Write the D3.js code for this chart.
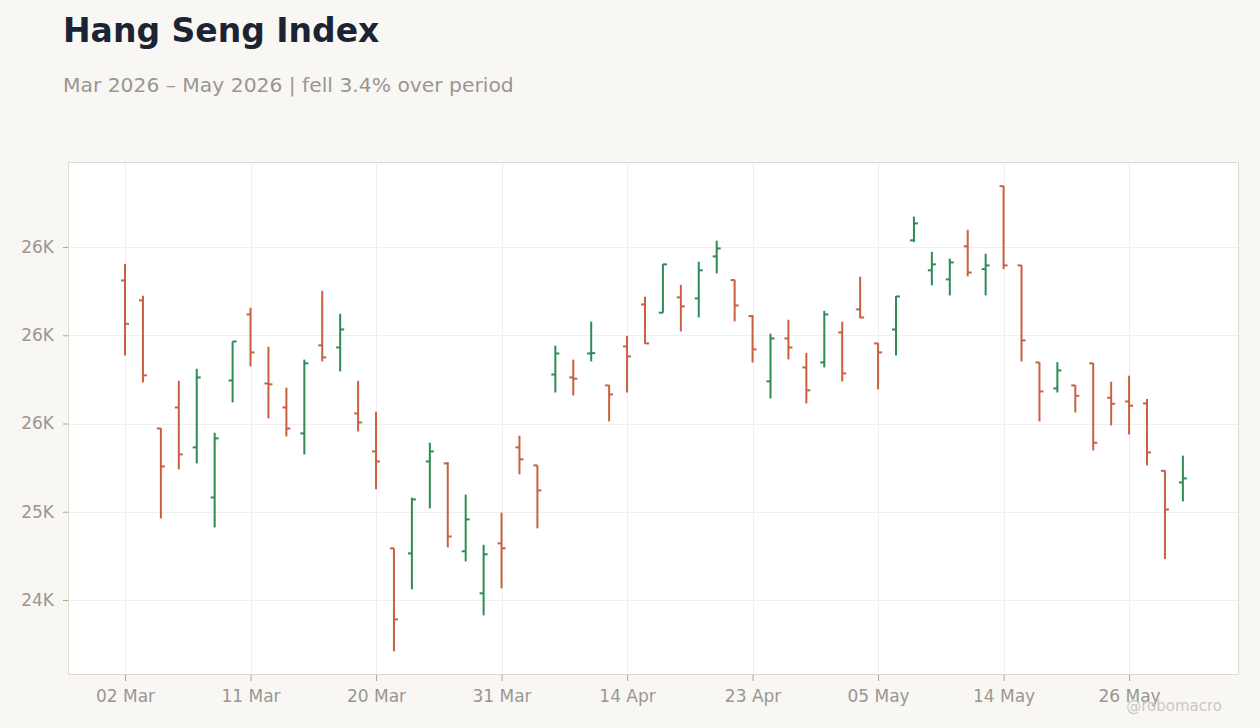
<!DOCTYPE html>
<html>
<head>
<meta charset="utf-8">
<script src="https://cdn.jsdelivr.net/npm/d3@7"></script>
<style>
  html, body { margin: 0; padding: 0; background: #f9f7f4; }
  svg { display: block; font-family: "DejaVu Sans", sans-serif; }
</style>
</head>
<body>
<svg id="chart" width="1260" height="728"></svg>
<script>
// ---- data ----
const dates = [
  "2026-03-02","2026-03-03","2026-03-04","2026-03-05","2026-03-06","2026-03-09","2026-03-10","2026-03-11","2026-03-12","2026-03-13",
  "2026-03-16","2026-03-17","2026-03-18","2026-03-19","2026-03-20","2026-03-23","2026-03-24","2026-03-25","2026-03-26","2026-03-27",
  "2026-03-30","2026-03-31","2026-04-01","2026-04-02","2026-04-08","2026-04-09","2026-04-10","2026-04-13","2026-04-14","2026-04-15",
  "2026-04-16","2026-04-17","2026-04-20","2026-04-21","2026-04-22","2026-04-23","2026-04-24","2026-04-27","2026-04-28","2026-04-29",
  "2026-04-30","2026-05-04","2026-05-05","2026-05-06","2026-05-07","2026-05-08","2026-05-11","2026-05-12","2026-05-13","2026-05-14",
  "2026-05-15","2026-05-18","2026-05-19","2026-05-20","2026-05-21","2026-05-22","2026-05-26","2026-05-27","2026-05-28","2026-05-29"
];
const openValues = [
  26311,26198,25472,25591,25365,25081,25744,26118,25727,25591,
  25444,25943,25931,25557,25342,24793,24764,25285,25274,24776,
  24538,24821,25365,25263,25778,25761,25897,25716,25937,26175,
  26128,26215,26209,26447,26313,26109,25739,25982,25818,25846,
  26016,26147,25954,26033,26538,26368,26317,26504,26375,26845,
  26396,25846,25699,25716,25841,25646,25625,25614,25232,25166
];
const highValues = [
  26405,26224,25474,25742,25810,25448,25965,26156,25935,25703,
  25862,26252,26122,25742,25567,24793,25080,25391,25282,25097,
  24813,24995,25431,25263,25941,25862,26077,25718,25997,26218,
  26402,26286,26417,26536,26315,26115,26009,26088,25901,26139,
  26077,26332,25956,26222,26672,26473,26434,26598,26462,26847,
  26398,25848,25848,25718,25843,25737,25771,25639,25234,25318
];
const lowValues = [
  25886,25733,24962,25240,25274,24911,25620,25824,25529,25427,
  25325,25852,25795,25455,25127,24209,24560,25019,24798,24719,
  24413,24566,25212,24906,25676,25659,25852,25512,25676,25952,
  26128,26022,26101,26351,26079,25846,25642,25863,25614,25818,
  25739,26096,25693,25886,26528,26283,26226,26334,26226,26375,
  25852,25512,25676,25563,25348,25489,25438,25263,24732,25059
];
const closeValues = [
  26065,25773,25257,25325,25761,25416,25965,25903,25722,25472,
  25841,25875,26033,25506,25285,24390,25070,25342,24860,24957,
  24759,24793,25297,25121,25897,25754,25899,25665,25880,25954,
  26402,26164,26368,26492,26169,25920,25982,25931,25688,26118,
  25784,26101,25903,26220,26634,26402,26413,26356,26396,26396,
  25971,25682,25801,25657,25391,25612,25601,25336,25013,25189
];
const yTickValues = [24500, 25000, 25500, 26000, 26500];
const yTickLabels = ["24K", "25K", "26K", "26K", "26K"];
const xTickEvery = 7;

const titleText = "Hang Seng Index";
const subtitleText = "Mar 2026 \u2013 May 2026 | fell 3.4% over period";
const watermarkText = "@robomacro";

// ---- layout ----
const W = 1260, H = 728;
const plot = { left: 68, right: 1239, top: 162, bottom: 675 };
const upColor = "#2e8b57", downColor = "#c9603f";

const svg = d3.select("#chart");

const rows = dates.map((d, i) => ({
  i, date: d3.timeParse("%Y-%m-%d")(d),
  open: openValues[i], high: highValues[i], low: lowValues[i], close: closeValues[i]
}));

const x = d3.scaleLinear().domain([-3.18, dates.length - 1 + 3.13]).range([plot.left, plot.right]);
const y = d3.scaleLinear().domain([24075, 26982]).range([plot.bottom, plot.top]);

// title
svg.append("text").attr("x", 63).attr("y", 42)
  .attr("font-size", 33).attr("font-weight", "bold").attr("fill", "#1c2434")
  .text(titleText);
svg.append("text").attr("x", 63).attr("y", 92)
  .attr("font-size", 20.3).attr("fill", "#9a9691")
  .text(subtitleText);

// plot background
svg.append("rect")
  .attr("x", plot.left).attr("y", plot.top)
  .attr("width", plot.right - plot.left).attr("height", plot.bottom - plot.top)
  .attr("fill", "#ffffff");

const xTickIdx = d3.range(0, dates.length, xTickEvery);
const fmtDate = d3.timeFormat("%d %b");

// grid
const grid = svg.append("g").attr("shape-rendering", "crispEdges");
grid.selectAll(".hg").data(yTickValues).join("line")
  .attr("x1", plot.left).attr("x2", plot.right)
  .attr("y1", d => Math.round(y(d)) + 0.5).attr("y2", d => Math.round(y(d)) + 0.5)
  .attr("stroke", "#efefef").attr("stroke-width", 1);
grid.selectAll(".vg").data(xTickIdx).join("line")
  .attr("y1", plot.top).attr("y2", plot.bottom)
  .attr("x1", d => Math.round(x(d)) + 0.5).attr("x2", d => Math.round(x(d)) + 0.5)
  .attr("stroke", "#efefef").attr("stroke-width", 1);

// axes
const yAxis = d3.axisLeft(y).tickValues(yTickValues)
  .tickFormat((d, i) => yTickLabels[i]).tickSize(5).tickPadding(9);
const gy = svg.append("g").attr("transform", `translate(${plot.left},0)`).call(yAxis);
gy.select(".domain").remove();
gy.selectAll(".tick line").attr("stroke", "#a9a59f");
gy.selectAll(".tick text").attr("fill", "#9a9691").attr("font-size", 17)
  .attr("font-family", "DejaVu Sans, sans-serif");

const xAxis = d3.axisBottom(x).tickValues(xTickIdx)
  .tickFormat(i => fmtDate(rows[i].date)).tickSize(6).tickPadding(9);
const gx = svg.append("g").attr("transform", `translate(0,${plot.bottom})`).call(xAxis);
gx.select(".domain").remove();
gx.selectAll(".tick line").attr("stroke", "#a9a59f");
gx.selectAll(".tick text").attr("fill", "#9a9691").attr("font-size", 17)
  .attr("font-family", "DejaVu Sans, sans-serif");

// plot border
svg.append("rect")
  .attr("x", plot.left + 0.5).attr("y", plot.top + 0.5)
  .attr("width", plot.right - plot.left - 1).attr("height", plot.bottom - plot.top - 1)
  .attr("fill", "none").attr("stroke", "#ded9d1").attr("stroke-width", 1);

// OHLC bars
const bars = svg.append("g").selectAll("g").data(rows).join("g")
  .attr("stroke", d => d.close >= d.open ? upColor : downColor)
  .attr("stroke-width", 2);
bars.append("line")
  .attr("x1", d => x(d.i)).attr("x2", d => x(d.i))
  .attr("y1", d => y(d.high)).attr("y2", d => y(d.low));
bars.append("line")
  .attr("x1", d => x(d.i) - 4).attr("x2", d => x(d.i))
  .attr("y1", d => y(d.open)).attr("y2", d => y(d.open));
bars.append("line")
  .attr("x1", d => x(d.i)).attr("x2", d => x(d.i) + 4)
  .attr("y1", d => y(d.close)).attr("y2", d => y(d.close));

// watermark
svg.append("text").attr("x", 1222).attr("y", 711).attr("text-anchor", "end")
  .attr("font-size", 15).attr("fill", "#cbc8c3")
  .text(watermarkText);
</script>
</body>
</html>
